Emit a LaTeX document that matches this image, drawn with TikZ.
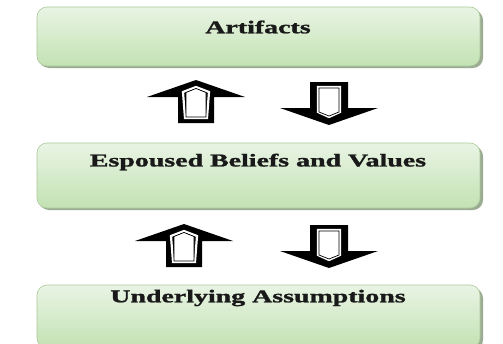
\documentclass[tikz,border=0pt]{standalone}
\usepackage{fontspec}
\setmainfont[BoldFeatures={FakeBold=1.2}]{Liberation Serif}
\begin{document}
\begin{tikzpicture}[x=1pt,y=-1pt,
  layerbox/.style={rounded corners=10pt, draw=boxedge, line width=0.6pt,
    top color=boxbot, bottom color=boxtop},
  layershadow/.style={rounded corners=10pt, fill=shadowc},
  layertext/.style={font=\bfseries\fontsize{18}{20}\selectfont, xscale=1.55, inner sep=0pt, text=black!90},
  pics/uparrow/.style={code={
    \fill[black] (0,0) -- (49,17) -- (18,17) -- (18,43) -- (-18,43) -- (-18,17) -- (-49,17) -- cycle;
    \draw[white, line width=2.2pt, line join=miter] (0,7) -- (13,12) -- (11,38) -- (-11,38) -- (-13,12) -- cycle;
    \draw[black, fill=white, line width=0.7pt] (0,8.5) -- (10,12.5) -- (10,37) -- (-10,37) -- (-10,12.5) -- cycle;
  }},
  pics/downarrow/.style={code={
    \fill[black] (-19,0) -- (19,0) -- (19,26) -- (49,26) -- (0,43) -- (-49,26) -- (-19,26) -- cycle;
    \draw[white, line width=2.2pt, line join=miter] (-11,5) -- (11,5) -- (11,30) -- (0,35) -- (-11,30) -- cycle;
    \draw[black, fill=white, line width=0.7pt] (-10,6) -- (10,6) -- (10,30) -- (0,34) -- (-10,30) -- cycle;
  }}
]
\definecolor{boxtop}{HTML}{C3E2B3}
\definecolor{boxbot}{HTML}{E9F4E4}
\definecolor{boxedge}{HTML}{A9C99C}
\definecolor{shadowc}{HTML}{9CAC93}
\useasboundingbox[fill=white] (0,0) rectangle (503,343);

% boxes
\fill[layershadow] (39,10) rectangle (483,68);
\draw[layerbox] (37,7) rectangle (480,66);
\node[layertext] (artifacts) at (258,27) {Artifacts};

\fill[layershadow] (39,146) rectangle (483,210);
\draw[layerbox] (37,143) rectangle (480,208);
\node[layertext] (espoused) at (258,162) {Espoused Beliefs and Values};

\fill[layershadow] (39,288) rectangle (483,350);
\draw[layerbox] (37,285) rectangle (480,348);
\node[layertext] (underlying) at (258,298) {Underlying Assumptions};

% arrows
\pic at (196,80) {uparrow};
\pic at (329,82) {downarrow};
\pic at (184,224) {uparrow};
\pic at (329,225) {downarrow};
\end{tikzpicture}
\end{document}
